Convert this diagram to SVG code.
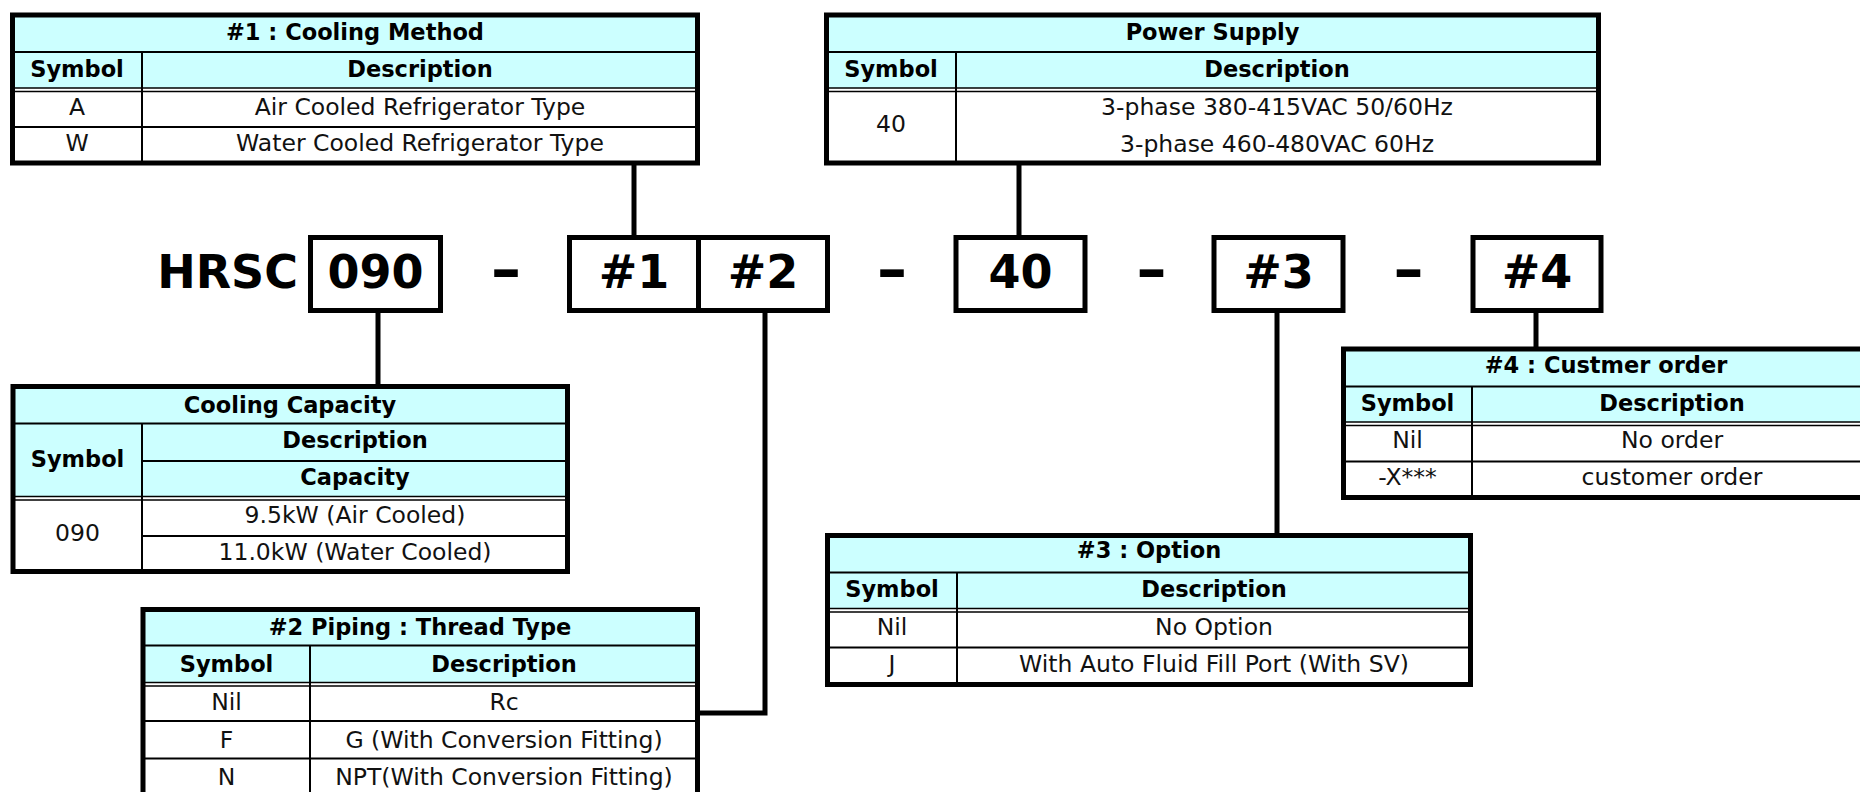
<svg xmlns="http://www.w3.org/2000/svg" width="1860" height="792" viewBox="0 0 1860 792">
<style>
.bg{fill:#fff}
.cy{fill:#CCFFFF}
.outer{fill:none;stroke:#000;stroke-width:5}
.in{stroke:#000;stroke-width:2;fill:none}
.dbl{stroke:#000;stroke-width:1.5;fill:none}
.b{font-family:"DejaVu Sans","Liberation Sans",sans-serif;font-weight:bold;font-size:22.5px;text-anchor:middle;fill:#000}
.r{font-family:"DejaVu Sans","Liberation Sans",sans-serif;font-size:23.5px;text-anchor:middle;fill:#111}
.code{font-family:"DejaVu Sans","Liberation Sans",sans-serif;font-weight:bold;font-size:46px;text-anchor:middle;fill:#000}
.dash{font-family:"DejaVu Sans","Liberation Sans",sans-serif;font-weight:bold;font-size:60px;text-anchor:middle;fill:#000}
.box{fill:#fff;stroke:#000;stroke-width:5}
.conn{stroke:#000;stroke-width:5;fill:none}
</style>

<g id="connectors">
<line class="conn" x1="634" y1="163" x2="634" y2="238"/>
<line class="conn" x1="1019" y1="163" x2="1019" y2="238"/>
<line class="conn" x1="378" y1="310" x2="378" y2="387"/>
<polyline class="conn" points="765,310 765,713 697,713"/>
<line class="conn" x1="1277" y1="310" x2="1277" y2="536"/>
<line class="conn" x1="1536" y1="310" x2="1536" y2="350"/>
</g>

<g id="model-code">
<text class="code" x="298" y="288" style="text-anchor:end">HRSC</text>
<g id="box-090"><rect class="box" x="310.5" y="237.5" width="130" height="73"/><text class="code" x="375.5" y="288">090</text></g>
<text class="dash" x="506" y="290">–</text>
<g id="box-12"><rect class="box" x="569.5" y="237.5" width="258" height="73"/><line class="conn" x1="698.5" y1="237.5" x2="698.5" y2="310.5"/><text class="code" x="634" y="288">#1</text><text class="code" x="763" y="288">#2</text></g>
<text class="dash" x="892" y="290">–</text>
<g id="box-40"><rect class="box" x="956" y="237.5" width="129" height="73"/><text class="code" x="1020.5" y="288">40</text></g>
<text class="dash" x="1151.5" y="290">–</text>
<g id="box-3"><rect class="box" x="1214" y="237.5" width="129" height="73"/><text class="code" x="1278.5" y="288">#3</text></g>
<text class="dash" x="1408.5" y="290">–</text>
<g id="box-4"><rect class="box" x="1473" y="237.5" width="128" height="73"/><text class="code" x="1537" y="288">#4</text></g>
</g>

<g id="table-cooling-method">
<rect class="bg" x="12.5" y="15" width="685" height="148"/>
<rect class="cy" x="12.5" y="15" width="685" height="73"/>
<line class="in" x1="12.5" y1="52" x2="697.5" y2="52"/>
<line class="in" x1="142" y1="52" x2="142" y2="163"/>
<line class="dbl" x1="12.5" y1="88" x2="697.5" y2="88"/>
<line class="dbl" x1="12.5" y1="91.5" x2="697.5" y2="91.5"/>
<line class="in" x1="12.5" y1="127" x2="697.5" y2="127"/>
<rect class="outer" x="12.5" y="15" width="685" height="148"/>
<text class="b" x="355" y="40">#1 : Cooling Method</text>
<text class="b" x="77" y="77">Symbol</text>
<text class="b" x="420" y="77">Description</text>
<text class="r" x="77" y="115">A</text>
<text class="r" x="420" y="115">Air Cooled Refrigerator Type</text>
<text class="r" x="77" y="151">W</text>
<text class="r" x="420" y="151">Water Cooled Refrigerator Type</text>
</g>

<g id="table-power-supply">
<rect class="bg" x="826.5" y="15" width="772" height="148"/>
<rect class="cy" x="826.5" y="15" width="772" height="73"/>
<line class="in" x1="826.5" y1="52" x2="1598.5" y2="52"/>
<line class="in" x1="956" y1="52" x2="956" y2="163"/>
<line class="dbl" x1="826.5" y1="88" x2="1598.5" y2="88"/>
<line class="dbl" x1="826.5" y1="91.5" x2="1598.5" y2="91.5"/>
<rect class="outer" x="826.5" y="15" width="772" height="148"/>
<text class="b" x="1212.5" y="40">Power Supply</text>
<text class="b" x="891" y="77">Symbol</text>
<text class="b" x="1277" y="77">Description</text>
<text class="r" x="891" y="132">40</text>
<text class="r" x="1277" y="115">3-phase 380-415VAC 50/60Hz</text>
<text class="r" x="1277" y="152">3-phase 460-480VAC 60Hz</text>
</g>

<g id="table-cooling-capacity">
<rect class="bg" x="13" y="386.5" width="554.5" height="185"/>
<rect class="cy" x="13" y="386.5" width="554.5" height="110"/>
<line class="in" x1="13" y1="423.5" x2="567.5" y2="423.5"/>
<line class="in" x1="142" y1="423.5" x2="142" y2="571.5"/>
<line class="in" x1="142" y1="461" x2="567.5" y2="461"/>
<line class="dbl" x1="13" y1="496.5" x2="567.5" y2="496.5"/>
<line class="dbl" x1="13" y1="500" x2="567.5" y2="500"/>
<line class="in" x1="142" y1="536" x2="567.5" y2="536"/>
<rect class="outer" x="13" y="386.5" width="554.5" height="185"/>
<text class="b" x="290" y="413">Cooling Capacity</text>
<text class="b" x="77.5" y="467">Symbol</text>
<text class="b" x="355" y="448">Description</text>
<text class="b" x="355" y="485">Capacity</text>
<text class="r" x="77.5" y="541">090</text>
<text class="r" x="355" y="523">9.5kW (Air Cooled)</text>
<text class="r" x="355" y="560">11.0kW (Water Cooled)</text>
</g>

<g id="table-piping">
<rect class="bg" x="143" y="609.5" width="554.5" height="200"/>
<rect class="cy" x="143" y="609.5" width="554.5" height="73"/>
<line class="in" x1="143" y1="645.5" x2="697.5" y2="645.5"/>
<line class="in" x1="310" y1="645.5" x2="310" y2="800"/>
<line class="dbl" x1="143" y1="682.5" x2="697.5" y2="682.5"/>
<line class="dbl" x1="143" y1="686" x2="697.5" y2="686"/>
<line class="in" x1="143" y1="721" x2="697.5" y2="721"/>
<line class="in" x1="143" y1="758.5" x2="697.5" y2="758.5"/>
<rect class="outer" x="143" y="609.5" width="554.5" height="200"/>
<text class="b" x="420" y="635">#2 Piping : Thread Type</text>
<text class="b" x="226.5" y="672">Symbol</text>
<text class="b" x="504" y="672">Description</text>
<text class="r" x="226.5" y="710">Nil</text>
<text class="r" x="504" y="710">Rc</text>
<text class="r" x="226.5" y="748">F</text>
<text class="r" x="504" y="748">G (With Conversion Fitting)</text>
<text class="r" x="226.5" y="785">N</text>
<text class="r" x="504" y="785">NPT(With Conversion Fitting)</text>
</g>

<g id="table-option">
<rect class="bg" x="827.5" y="535.5" width="643" height="149"/>
<rect class="cy" x="827.5" y="535.5" width="643" height="73"/>
<line class="in" x1="827.5" y1="572.5" x2="1470.5" y2="572.5"/>
<line class="in" x1="957" y1="572.5" x2="957" y2="684.5"/>
<line class="dbl" x1="827.5" y1="608.5" x2="1470.5" y2="608.5"/>
<line class="dbl" x1="827.5" y1="612" x2="1470.5" y2="612"/>
<line class="in" x1="827.5" y1="647.5" x2="1470.5" y2="647.5"/>
<rect class="outer" x="827.5" y="535.5" width="643" height="149"/>
<text class="b" x="1149" y="558">#3 : Option</text>
<text class="b" x="892" y="597">Symbol</text>
<text class="b" x="1214" y="597">Description</text>
<text class="r" x="892" y="635">Nil</text>
<text class="r" x="1214" y="635">No Option</text>
<text class="r" x="892" y="672">J</text>
<text class="r" x="1214" y="672">With Auto Fluid Fill Port (With SV)</text>
</g>

<g id="table-customer-order">
<rect class="bg" x="1343.5" y="349" width="528.5" height="148.5"/>
<rect class="cy" x="1343.5" y="349" width="528.5" height="73"/>
<line class="in" x1="1343.5" y1="386.5" x2="1872" y2="386.5"/>
<line class="in" x1="1472" y1="386.5" x2="1472" y2="497.5"/>
<line class="dbl" x1="1343.5" y1="422" x2="1872" y2="422"/>
<line class="dbl" x1="1343.5" y1="425.5" x2="1872" y2="425.5"/>
<line class="in" x1="1343.5" y1="461.5" x2="1872" y2="461.5"/>
<rect class="outer" x="1343.5" y="349" width="528.5" height="148.5"/>
<text class="b" x="1606" y="373">#4 : Custmer order</text>
<text class="b" x="1407.5" y="411">Symbol</text>
<text class="b" x="1672" y="411">Description</text>
<text class="r" x="1407.5" y="448">Nil</text>
<text class="r" x="1672" y="448">No order</text>
<text class="r" x="1407.5" y="485">-X***</text>
<text class="r" x="1672" y="485">customer order</text>
</g>
</svg>
